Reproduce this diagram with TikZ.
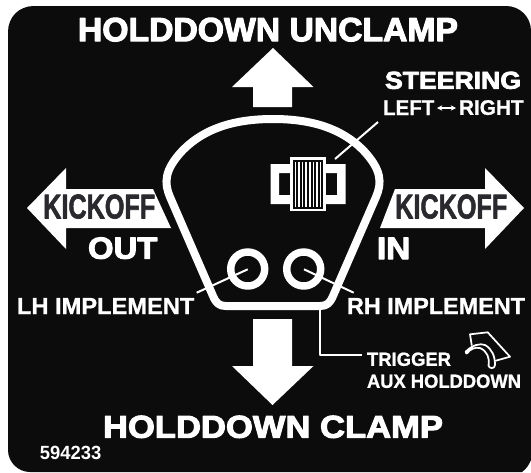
\documentclass[tikz,border=0pt]{standalone}
\usetikzlibrary{arrows.meta}
\usepackage{fontspec}
\setmainfont{Liberation Sans}
\newfontfamily\blkfont[FakeBold=3.2]{Liberation Sans}
\newfontfamily\semifont[FakeBold=1]{Liberation Sans}
\newfontfamily\kickfont[FakeBold=2]{Liberation Sans}
\definecolor{bgk}{HTML}{0C0C0C}
\definecolor{kick}{HTML}{2A2A2E}
\newcommand{\fitlabel}[5]{%
  \node[inner sep=0pt,outer sep=0pt,anchor=south west,white] (#1) at (#2) {\resizebox{#3pt}{#4pt}{#5}};}
\begin{document}
\begin{tikzpicture}[x=0.75pt,y=-0.75pt,
  line join=round,
  wht/.style={fill=white,draw=none},
  lead/.style={draw=white,line width=1.5pt},
  body/.style={draw=white,line width=6pt}]
\useasboundingbox (0,0) rectangle (531,472);
\fill[white] (0,0) rectangle (531,472);
\fill[bgk] (8,32) .. controls (8,17) and (19,6) .. (34,6) -- (506,6)
  .. controls (520,6) and (531,17) .. (531,31) -- (531,460)
  .. controls (529,465) and (526,469) .. (522,472) -- (30,472)
  .. controls (18,472) and (8,462) .. (8,450) -- cycle;
% arrows
\fill[wht] (273,48)--(313.5,87)--(292,87)--(292,107)--(253,107)--(253,87)--(232,87)--cycle;
\fill[wht] (272.5,405)--(313.5,366)--(292,366)--(292,319)--(253,319)--(253,366)--(232,366)--cycle;
\fill[wht] (27,208)--(66,168)--(66,189)--(153,189)--(171,228)--(66,228)--(66,249)--cycle;
\fill[wht] (524,208)--(485,168)--(485,189)--(395,189)--(380,228)--(485,228)--(485,249)--cycle;
% steering icon
\fill[white,even odd rule] (270.5,164) rectangle (345.5,204) (279,173) rectangle (295,195) (320,173) rectangle (337,195);
\fill[white] (290,157) rectangle (325.5,211);
\fill[bgk] (292.7,160) rectangle (322.7,209);
\foreach \sx in {295.5,299,302.5,306,310,313.5,317,320.5}
  \fill[white] (\sx-0.7,161.5) rectangle (\sx+0.7,207);
% leaders
\coordinate (s1) at (335,159); \coordinate (s2) at (378,122);
\coordinate (lh1) at (247.7,269.3); \coordinate (lh2) at (196.7,292.7);
\coordinate (rh1) at (304,269.3); \coordinate (rh2) at (353.7,292.7);
\coordinate (t1) at (319.5,306); \coordinate (t2) at (319.5,354.5); \coordinate (t3) at (361.7,354.5);
\draw[lead] (s1)--(s2);
\draw[lead] (lh1)--(lh2);
\draw[lead] (rh1)--(rh2);
\draw[lead] (t1)--(t2)--(t3);
% body
\draw[body] (213,296) -- (170,197)
  .. controls (164,183) and (164,170) .. (183,150)
  .. controls (205,128) and (235,119) .. (273,119)
  .. controls (311,119) and (341,128) .. (363,150)
  .. controls (382,170) and (382,183) .. (376,197)
  -- (333,296)
  .. controls (330,303) and (327,306) .. (320,306)
  -- (226,306)
  .. controls (219,306) and (216,303) .. (213,296) -- cycle;
\draw[white,line width=5.6pt] (247.7,269) circle[radius=17];
\draw[white,line width=5.6pt] (303.7,269) circle[radius=17];
% trigger icon
\draw[white,line width=1.3pt,line join=round,line cap=round]
 (471.7,345) -- (470,334.3) -- (487.7,332.3) -- (510,356.7) -- (495.7,360.7);
\draw[white,line width=1.3pt,line join=round,line cap=round]
 (465.7,351.7) .. controls (472,345) and (480,343) .. (485,345)
 .. controls (492,349) and (495,356) .. (495,365)
 .. controls (495,369) and (489,369) .. (488.5,365.5)
 .. controls (490,358) and (487,351) .. (480,348)
 .. controls (475,347) and (470,349) .. (467,353.5)
 .. controls (466.5,354) and (465.5,352.5) .. (465.7,351.7) -- cycle;
% labels
\fitlabel{t1n}{78,41.5}{285}{17.5}{\blkfont\bfseries HOLDDOWN UNCLAMP}
\fitlabel{t2n}{103,438}{255}{16.5}{\blkfont\bfseries HOLDDOWN CLAMP}
\fitlabel{st}{385,89}{102}{12.8}{\blkfont\bfseries STEERING}
\fitlabel{lf}{383,115}{38.5}{11}{\semifont\bfseries LEFT}
\fitlabel{rg}{459,115}{48.5}{11}{\semifont\bfseries RIGHT}
\coordinate (la) at (437,108); \coordinate (lb) at (456,108);
\draw[draw=white,line width=1pt,{Stealth[length=4pt,width=4pt]}-{Stealth[length=4pt,width=4pt]}] (la)--(lb);
\fitlabel{ou}{88,259}{52}{16}{\blkfont\bfseries OUT}
\fitlabel{in}{377,259}{25}{16}{\blkfont\bfseries IN}
\fitlabel{lh}{17,314}{133}{12}{\semifont\bfseries LH IMPLEMENT}
\fitlabel{rh}{347,314}{133.5}{12}{\semifont\bfseries RH IMPLEMENT}
\fitlabel{tr}{367,366}{63}{10}{\semifont\bfseries TRIGGER}
\fitlabel{au}{367,388}{115.5}{10}{\semifont\bfseries AUX HOLDDOWN}
\fitlabel{nm}{40,460}{46}{10}{\bfseries 594233}
\node[inner sep=0pt,anchor=south west,text=kick] (kl) at (43,219) {\resizebox{84pt}{18pt}{\kickfont\bfseries KICKOFF}};
\node[inner sep=0pt,anchor=south west,text=kick] (kr) at (395,219) {\resizebox{84pt}{18pt}{\kickfont\bfseries KICKOFF}};
\end{tikzpicture}
\end{document}
